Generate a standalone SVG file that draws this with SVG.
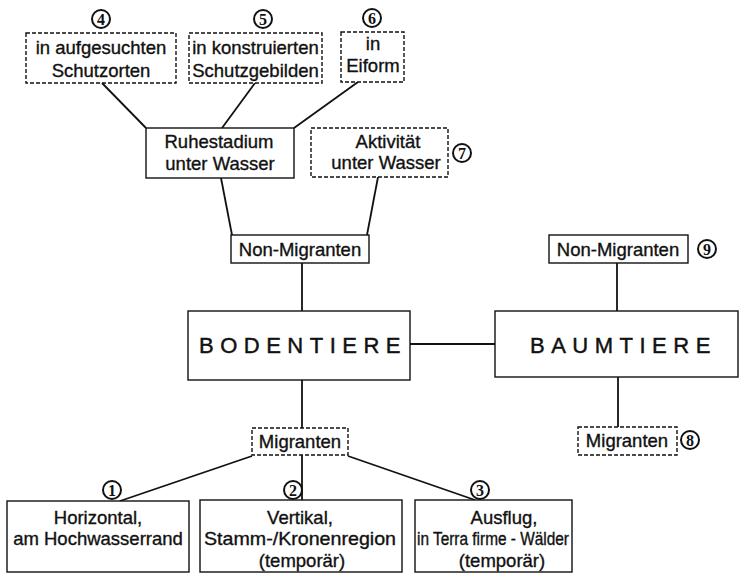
<svg xmlns="http://www.w3.org/2000/svg" width="741" height="575" viewBox="0 0 741 575">
<style>
.box{fill:#fff;stroke:#111;stroke-width:1.4}
.dash{stroke-dasharray:4 2}
.t{font-family:"Liberation Sans",Arial,sans-serif;font-size:18.5px;fill:#111;stroke:#111;stroke-width:0.35;text-anchor:middle}
.big{font-family:"Liberation Sans",Arial,sans-serif;font-size:22px;fill:#111;stroke:#111;stroke-width:0.45;letter-spacing:6.5px}
.num{font-family:"Liberation Serif","Times New Roman",serif;font-size:16px;font-weight:bold;fill:#111;text-anchor:middle}
.circ{fill:#fff;stroke:#111;stroke-width:2}
.c{stroke:#111;stroke-width:1.8;fill:none}
</style>
<rect width="741" height="575" fill="#fff"/>
<g id="connectors">
<line class="c" x1="102" y1="83" x2="146" y2="128"/>
<line class="c" x1="255" y1="83" x2="222" y2="128"/>
<line class="c" x1="358" y1="82" x2="294" y2="128"/>
<line class="c" x1="221" y1="178" x2="232" y2="235"/>
<line class="c" x1="378" y1="177" x2="367" y2="235"/>
<line class="c" x1="302" y1="263" x2="302" y2="311"/>
<line class="c" x1="410" y1="344" x2="495" y2="344"/>
<line class="c" x1="617" y1="263" x2="617" y2="311"/>
<line class="c" x1="618" y1="377" x2="618" y2="427"/>
<line class="c" x1="302" y1="380" x2="302" y2="428"/>
<line class="c" x1="252" y1="456" x2="120" y2="501"/>
<line class="c" x1="302" y1="455" x2="302" y2="500"/>
<line class="c" x1="348" y1="456" x2="475" y2="500"/>
</g>
<g id="n4">
<rect class="box dash" x="26" y="33" width="150" height="50"/>
<text class="t" x="101" y="54">in aufgesuchten</text>
<text class="t" x="101" y="77">Schutzorten</text>
<circle class="circ" cx="101" cy="19" r="9"/><text class="num" x="101" y="24.5">4</text>
</g>
<g id="n5">
<rect class="box dash" x="189" y="33" width="133" height="50"/>
<text class="t" x="255.5" y="54">in konstruierten</text>
<text class="t" x="255.5" y="77">Schutzgebilden</text>
<circle class="circ" cx="263" cy="19" r="9"/><text class="num" x="263" y="24.5">5</text>
</g>
<g id="n6">
<rect class="box dash" x="341" y="32" width="63" height="50"/>
<text class="t" x="373" y="50">in</text>
<text class="t" x="373" y="72">Eiform</text>
<circle class="circ" cx="372" cy="18" r="9"/><text class="num" x="372" y="23.5">6</text>
</g>
<g id="ruhe">
<rect class="box" x="146" y="128" width="148" height="50"/>
<text class="t" x="219" y="148">Ruhestadium</text>
<text class="t" x="220" y="170">unter Wasser</text>
</g>
<g id="aktiv">
<rect class="box dash" x="311" y="128" width="137" height="49"/>
<text class="t" x="388" y="148">Aktivität</text>
<text class="t" x="386" y="169">unter Wasser</text>
<circle class="circ" cx="462" cy="153" r="9"/><text class="num" x="462" y="158.5">7</text>
</g>
<g id="nonmig1">
<rect class="box" x="231" y="235" width="138" height="28"/>
<text class="t" x="300" y="256">Non-Migranten</text>
</g>
<g id="boden">
<rect class="box" x="188" y="311" width="222" height="69"/>
<text class="big" x="199" y="353">BODENTIERE</text>
</g>
<g id="baum">
<rect class="box" x="495" y="311" width="243" height="66"/>
<text class="big" x="530" y="353">BAUMTIERE</text>
</g>
<g id="nonmig2">
<rect class="box" x="549" y="235" width="139" height="28"/>
<text class="t" x="618" y="256">Non-Migranten</text>
<circle class="circ" cx="707" cy="249" r="9"/><text class="num" x="707" y="254.5">9</text>
</g>
<g id="mig2">
<rect class="box dash" x="578" y="427" width="99" height="28"/>
<text class="t" x="627" y="447">Migranten</text>
<circle class="circ" cx="690" cy="440" r="9"/><text class="num" x="690" y="445.5">8</text>
</g>
<g id="mig1">
<rect class="box dash" x="252" y="428" width="96" height="27"/>
<text class="t" x="300" y="448">Migranten</text>
</g>
<g id="n1">
<rect class="box" x="7" y="501" width="182" height="71"/>
<text class="t" x="98" y="524">Horizontal,</text>
<text class="t" x="98" y="545">am Hochwasserrand</text>
<circle class="circ" cx="112" cy="490" r="9"/><text class="num" x="112" y="495.5">1</text>
</g>
<g id="n2">
<rect class="box" x="200" y="500" width="202" height="72"/>
<text class="t" x="300" y="524">Vertikal,</text>
<text class="t" x="300" y="545" textLength="192" lengthAdjust="spacingAndGlyphs">Stamm-/Kronenregion</text>
<text class="t" x="302" y="567">(temporär)</text>
<circle class="circ" cx="293" cy="490" r="9"/><text class="num" x="293" y="495.5">2</text>
</g>
<g id="n3">
<rect class="box" x="415" y="500" width="157" height="72"/>
<text class="t" x="504" y="524">Ausflug,</text>
<text class="t" x="493" y="545" style="font-size:17.5px" textLength="152" lengthAdjust="spacingAndGlyphs">in Terra firme - Wälder</text>
<text class="t" x="502" y="567">(temporär)</text>
<circle class="circ" cx="480" cy="490" r="9"/><text class="num" x="480" y="495.5">3</text>
</g>
</svg>
